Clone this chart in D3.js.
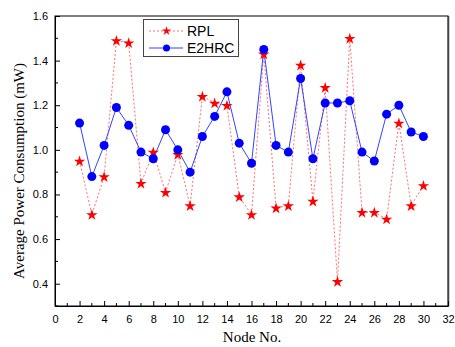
<!DOCTYPE html>
<html><head><meta charset="utf-8">
<script src="https://cdn.jsdelivr.net/npm/d3@7"></script>
<style>body{margin:0;background:#fff}svg{display:block}</style>
</head><body>
<script>
const nodes = [2,3,4,5,6,7,8,9,10,11,12,13,14,15,16,17,18,19,20,21,22,23,24,25,26,27,28,29,30];
const rplValues = [0.95,0.71,0.88,1.49,1.48,0.85,0.99,0.81,0.98,0.75,1.24,1.21,1.20,0.79,0.71,1.43,0.74,0.75,1.38,0.77,1.28,0.41,1.50,0.72,0.72,0.69,1.12,0.75,0.84];
const e2hrcValues = [1.12,0.88,1.02,1.19,1.11,0.99,0.96,1.09,1.00,0.90,1.06,1.15,1.26,1.03,0.94,1.45,1.02,0.99,1.32,0.96,1.21,1.21,1.22,0.99,0.95,1.16,1.20,1.08,1.06];
const xTicks = [0,2,4,6,8,10,12,14,16,18,20,22,24,26,28,30,32];
const yTicks = [0.4,0.6,0.8,1.0,1.2,1.4,1.6];
const seriesNames = ["RPL","E2HRC"];

const W=455,H=347;
const L=55,R=448,T=16,B=306;
const svg=d3.select("body").append("svg").attr("width",W).attr("height",H);
const x=d3.scaleLinear().domain([0,32]).range([L,R]);
const y=d3.scaleLinear().domain([0.3,1.6]).range([B,T]);

// frame
svg.append("rect").attr("x",L).attr("y",T).attr("width",R-L).attr("height",B-T)
  .attr("fill","none").attr("stroke","#000").attr("stroke-width",1);
svg.append("line").attr("x1",R+0.5).attr("x2",R+0.5).attr("y1",T).attr("y2",B+0.5).attr("stroke","#444").attr("stroke-width",1.5);

// x axis
const xAxis=d3.axisBottom(x).tickValues(xTicks).tickSizeInner(-5).tickSizeOuter(0).tickPadding(9).tickFormat(d3.format("d"));
const gx=svg.append("g").attr("transform",`translate(0,${B})`).call(xAxis);
gx.select(".domain").attr("stroke","#000");
gx.selectAll("text").attr("font-family","Liberation Sans, Arial, sans-serif").attr("font-size",11).attr("fill","#000");
const xMinor=d3.range(1,32,2);
svg.append("g").selectAll("line").data(xMinor).join("line")
  .attr("x1",d=>x(d)).attr("x2",d=>x(d)).attr("y1",B).attr("y2",B-3).attr("stroke","#000");

// y axis
const yAxis=d3.axisLeft(y).tickValues(yTicks).tickSizeInner(-5).tickSizeOuter(0).tickPadding(7).tickFormat(d3.format(".1f"));
const gy=svg.append("g").attr("transform",`translate(${L},0)`).call(yAxis);
gy.select(".domain").attr("stroke","#000");
gy.selectAll("text").attr("font-family","Liberation Sans, Arial, sans-serif").attr("font-size",11).attr("fill","#000");
const yMinor=[0.3,0.5,0.7,0.9,1.1,1.3,1.5];
svg.append("g").selectAll("line").data(yMinor).join("line")
  .attr("x1",L).attr("x2",L+3).attr("y1",d=>y(d)).attr("y2",d=>y(d)).attr("stroke","#000");

// titles
svg.append("text").attr("x",252).attr("y",342).attr("text-anchor","middle")
  .attr("font-family","Liberation Serif, Times New Roman, serif").attr("font-size",15).text("Node No.");
svg.append("text").attr("transform",`translate(24,${(T+B)/2+10}) rotate(-90)`).attr("text-anchor","middle")
  .attr("font-family","Liberation Serif, Times New Roman, serif").attr("font-size",15).text("Average Power Consumption (mW)");

const line=d3.line().x(d=>x(d[0])).y(d=>y(d[1]));
const rpl=nodes.map((n,i)=>[n,rplValues[i]]);
const e2=nodes.map((n,i)=>[n,e2hrcValues[i]]);
const star=d3.symbol().type(d3.symbolStar).size(40);
const starSmall=d3.symbol().type(d3.symbolStar).size(26);

svg.append("path").datum(rpl).attr("d",line).attr("fill","none").attr("stroke","#ff7070").attr("stroke-width",1).attr("stroke-dasharray","2,2");
svg.append("path").datum(e2).attr("d",line).attr("fill","none").attr("stroke","#3344ff").attr("stroke-width",1);
svg.append("g").selectAll("path").data(rpl).join("path").attr("d",star)
  .attr("transform",d=>`translate(${x(d[0])},${y(d[1])+0.5})`).attr("fill","#ff0000");
svg.append("g").selectAll("circle").data(e2).join("circle")
  .attr("cx",d=>x(d[0])).attr("cy",d=>y(d[1])).attr("r",4.5).attr("fill","#0000ff");

// legend
const lg=svg.append("g");
lg.append("rect").attr("x",143.5).attr("y",19.5).attr("width",95).attr("height",37).attr("fill","#fff").attr("stroke","#444");
lg.append("line").attr("x1",149).attr("x2",183).attr("y1",31).attr("y2",31).attr("stroke","#ff7070").attr("stroke-dasharray","2,2");
lg.append("path").attr("d",starSmall).attr("transform","translate(166.5,31)").attr("fill","#ff0000");
lg.append("line").attr("x1",149).attr("x2",183).attr("y1",48).attr("y2",48).attr("stroke","#3344ff");
lg.append("circle").attr("cx",166.5).attr("cy",48).attr("r",3.5).attr("fill","#0000ff");
lg.selectAll("text.l").data(seriesNames).join("text").attr("x",187).attr("y",(d,i)=>36+i*17)
  .attr("font-family","Liberation Sans, Arial, sans-serif").attr("font-size",14).text(d=>d);
</script>
</body></html>
